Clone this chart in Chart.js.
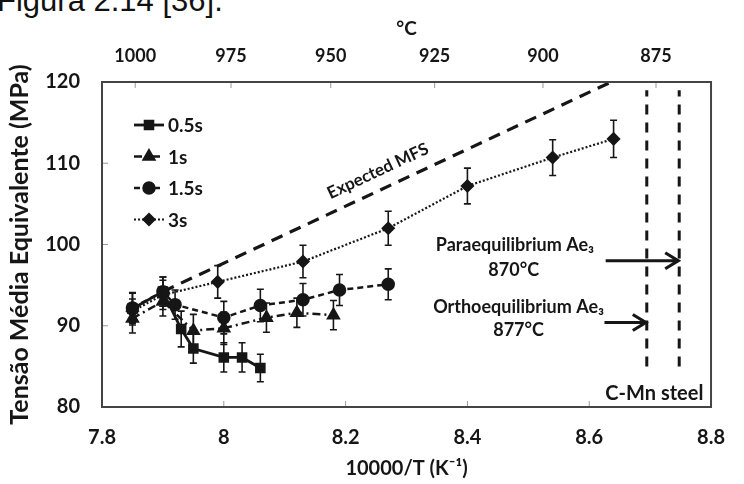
<!DOCTYPE html>
<html>
<head>
<meta charset="utf-8">
<script src="https://cdn.jsdelivr.net/npm/chart.js@4.4.0/dist/chart.umd.min.js"></script>
<style>
  html, body { margin: 0; padding: 0; background: #fff; }
  #wrap { position: relative; width: 744px; height: 484px; overflow: hidden; }
  #caption { position: absolute; left: -3px; top: -17px; font: 31px "Liberation Sans", Arial, sans-serif; color: #111; white-space: nowrap; }
  canvas { position: absolute; left: 0; top: 0; }
</style>
</head>
<body>
<div id="wrap">
  <div id="caption">Figura 2.14 [36].</div>
  <canvas id="mfsChart" width="744" height="484"></canvas>
</div>
<script>
// Mean flow stress vs 10000/T for several interpass times

// 0.5 s
const x05 = [7.85, 7.90, 7.93, 7.95, 8.00, 8.03, 8.06];
const y05 = [92.1, 94.2, 89.6, 87.2, 86.1, 86.1, 84.8];
const e05 = [2.0, 1.8, 2.2, 1.8, 1.8, 1.8, 1.7];
// 1 s
const x1 = [7.85, 7.90, 7.95, 8.00, 8.07, 8.12, 8.18];
const y1 = [90.9, 93.0, 89.4, 89.7, 91.0, 91.6, 91.3];
const e1 = [1.8, 1.8, 2.0, 2.0, 1.8, 1.8, 1.8];
// 1.5 s
const x15 = [7.85, 7.90, 7.92, 8.00, 8.06, 8.13, 8.19, 8.27];
const y15 = [92.2, 94.2, 92.6, 91.0, 92.5, 93.2, 94.4, 95.1];
const e15 = [1.8, 1.8, 1.8, 2.0, 2.0, 2.0, 1.9, 1.9];
// 3 s
const x3 = [7.85, 7.90, 7.99, 8.13, 8.27, 8.40, 8.54, 8.64];
const y3 = [91.8, 93.8, 95.4, 97.9, 102.0, 107.2, 110.7, 113.0];
const e3 = [1.5, 1.8, 2.0, 2.0, 2.1, 2.2, 2.2, 2.3];

// expected MFS line
const mfsX = [7.90, 8.636];
const mfsY = [94.2, 120];

// top axis temperatures (°C)
const topTempsC = [1000, 975, 950, 925, 900, 875];

// Ae3 temperatures (°C): ortho, para
const ae3Temps = [877, 870];
const ae3Span = [85, 119];

const ink = '#161616';
const fontFamily = 'Lato, sans-serif';
const toInvT = c => 10000 / (c + 273.15);
const pts = (xs, ys) => xs.map((x, i) => ({ x: x, y: ys[i] }));

function seriesDataset(label, xs, ys, errs, style, radius, dash, width) {
    return {
        label: label,
        data: pts(xs, ys),
        errs: errs,
        borderColor: ink,
        backgroundColor: ink,
        borderWidth: width,
        borderDash: dash,
        pointStyle: style,
        pointRadius: radius,
        pointBackgroundColor: ink,
        pointBorderColor: ink,
        tension: 0,
        inLegend: true
    };
}

const datasets = [
    seriesDataset('0.5s', x05, y05, e05, 'rect', 5.5, [], 2.8),
    seriesDataset('1s', x1, y1, e1, 'triangle', 6, [8, 4, 2, 4], 2.5),
    seriesDataset('1.5s', x15, y15, e15, 'circle', 5.5, [6, 4], 2.5),
    seriesDataset('3s', x3, y3, e3, 'rectRot', 5.5, [2, 2], 2.2),
    {
        label: 'Expected MFS',
        data: pts(mfsX, mfsY),
        borderColor: ink,
        borderWidth: 3.2,
        borderDash: [12, 8],
        pointRadius: 0
    }
];
ae3Temps.forEach(t => {
    datasets.push({
        label: 'Ae3 ' + t,
        data: pts([toInvT(t), toInvT(t)], ae3Span),
        borderColor: ink,
        borderWidth: 3,
        borderDash: [10, 8],
        pointRadius: 0
    });
});

/**
 * Frame, inward ticks, error bars, arrows, legend and text annotations
 */
const decorPlugin = {
    id: 'decor',
    afterDatasetsDraw(chart) {
        const ctx = chart.ctx;
        const xs = chart.scales.x, ys = chart.scales.y, xt = chart.scales.xTop;
        const a = chart.chartArea;
        ctx.save();
        ctx.setLineDash([]);

        // inward tick marks
        ctx.strokeStyle = '#999';
        ctx.lineWidth = 1;
        ctx.beginPath();
        xs.ticks.forEach(t => {
            const px = xs.getPixelForValue(t.value);
            ctx.moveTo(px, a.bottom); ctx.lineTo(px, a.bottom - 6);
        });
        ys.ticks.forEach(t => {
            const py = ys.getPixelForValue(t.value);
            ctx.moveTo(a.left, py); ctx.lineTo(a.left + 6, py);
        });
        xt.ticks.forEach(t => {
            const px = xt.getPixelForValue(t.value);
            ctx.moveTo(px, a.top); ctx.lineTo(px, a.top + 6);
        });
        ctx.stroke();

        // frame
        ctx.strokeStyle = '#444';
        ctx.lineWidth = 2;
        ctx.strokeRect(a.left, a.top, a.right - a.left, a.bottom - a.top);

        // error bars
        ctx.strokeStyle = ink;
        ctx.lineWidth = 1.6;
        chart.data.datasets.forEach((ds, i) => {
            if (!ds.errs) return;
            const meta = chart.getDatasetMeta(i);
            ctx.beginPath();
            meta.data.forEach((pt, j) => {
                const top = ys.getPixelForValue(ds.data[j].y + ds.errs[j]);
                const bot = ys.getPixelForValue(ds.data[j].y - ds.errs[j]);
                ctx.moveTo(pt.x, top); ctx.lineTo(pt.x, bot);
                ctx.moveTo(pt.x - 3.5, top); ctx.lineTo(pt.x + 3.5, top);
                ctx.moveTo(pt.x - 3.5, bot); ctx.lineTo(pt.x + 3.5, bot);
            });
            ctx.stroke();
        });

        // arrows to the Ae3 lines
        const arrow = (x0, x1v, yv) => {
            const p0 = xs.getPixelForValue(x0), p1 = xs.getPixelForValue(x1v);
            const py = ys.getPixelForValue(yv);
            ctx.lineWidth = 3.2;
            ctx.beginPath();
            ctx.moveTo(p0, py); ctx.lineTo(p1 - 1, py);
            ctx.moveTo(p1 - 14, py - 8); ctx.lineTo(p1 - 1, py); ctx.lineTo(p1 - 14, py + 8);
            ctx.stroke();
        };
        arrow(8.627, toInvT(870), 98.0);
        arrow(8.625, toInvT(877), 90.4);

        // legend
        ctx.font = 'bold 19px ' + fontFamily;
        ctx.textBaseline = 'middle';
        ctx.textAlign = 'left';
        let ly = a.top + 43;
        chart.data.datasets.forEach(ds => {
            if (!ds.inLegend) return;
            const lx = a.left + 32;
            ctx.strokeStyle = ink;
            ctx.lineWidth = ds.borderWidth;
            ctx.setLineDash(ds.borderDash);
            ctx.beginPath();
            ctx.moveTo(lx, ly); ctx.lineTo(lx + 30, ly);
            ctx.stroke();
            ctx.setLineDash([]);
            ctx.fillStyle = ink;
            Chart.helpers.drawPoint(ctx, { pointStyle: ds.pointStyle, radius: ds.pointRadius, borderWidth: 1 }, lx + 15, ly);
            ctx.fillText(ds.label, lx + 34, ly + 1);
            ly += 31.5;
        });

        // annotation text
        ctx.fillStyle = ink;
        ctx.textAlign = 'center';
        ctx.font = 'bold 18px ' + fontFamily;
        const label = (txt, xv, yv) => ctx.fillText(txt, xs.getPixelForValue(xv), ys.getPixelForValue(yv));
        label('Paraequilibrium Ae\u2083', 8.478, 99.95);
        label('870°C', 8.476, 96.9);
        label('Orthoequilibrium Ae\u2083', 8.484, 92.25);
        label('877°C', 8.484, 89.5);
        ctx.font = 'bold 20px ' + fontFamily;
        label('C-Mn steel', 8.707, 81.7);

        // expected MFS, rotated along its line
        const q0x = xs.getPixelForValue(mfsX[0]), q0y = ys.getPixelForValue(mfsY[0]);
        const q1x = xs.getPixelForValue(mfsX[1]), q1y = ys.getPixelForValue(mfsY[1]);
        ctx.translate(xs.getPixelForValue(8.253), ys.getPixelForValue(109.05));
        ctx.rotate(Math.atan2(q1y - q0y, q1x - q0x));
        ctx.font = 'bold 17px ' + fontFamily;
        ctx.fillText('Expected MFS', 0, 0);
        ctx.restore();
    }
};

const tickFont = { family: fontFamily, size: 20, weight: 'bold' };

const ctx = document.getElementById('mfsChart').getContext('2d');
const mfsChart = new Chart(ctx, {
    type: 'line',
    data: { datasets: datasets },
    options: {
        responsive: false,
        devicePixelRatio: 1,
        animation: false,
        layout: { padding: { left: 0, right: 17, top: 0, bottom: 0 } },
        plugins: {
            legend: { display: false },
            tooltip: { enabled: false }
        },
        scales: {
            x: {
                type: 'linear',
                position: 'bottom',
                min: 7.8,
                max: 8.8,
                ticks: {
                    stepSize: 0.2,
                    color: ink,
                    font: tickFont,
                    padding: 19,
                    callback: value => String(Number(value.toFixed(1)))
                },
                grid: { display: false, drawTicks: false },
                border: { display: false },
                title: {
                    display: true,
                    text: '10000/T (K\u207B\u00B9)',
                    color: ink,
                    font: tickFont,
                    padding: { top: 0, bottom: 3 }
                },
                afterFit: scale => { scale.height = 77; }
            },
            xTop: {
                type: 'linear',
                position: 'top',
                min: 7.8,
                max: 8.8,
                afterBuildTicks: scale => {
                    scale.ticks = topTempsC.map(c => ({ value: toInvT(c) }));
                },
                ticks: {
                    color: ink,
                    font: { family: fontFamily, size: 18, weight: 'bold' },
                    padding: 15,
                    callback: (value, index) => String(topTempsC[index])
                },
                grid: { display: false, drawTicks: false },
                border: { display: false },
                title: {
                    display: true,
                    text: '°C',
                    color: ink,
                    font: { family: fontFamily, size: 19, weight: 'bold' },
                    padding: { top: 17, bottom: 0 }
                },
                afterFit: scale => { scale.height = 82; }
            },
            y: {
                type: 'linear',
                min: 80,
                max: 120,
                ticks: { stepSize: 10, color: ink, font: tickFont, padding: 22 },
                grid: { display: false, drawTicks: false },
                border: { display: false },
                title: {
                    display: true,
                    text: 'Tensão Média Equivalente (MPa)',
                    color: ink,
                    font: { family: fontFamily, size: 25, weight: 'bold' },
                    padding: { top: 5, bottom: 0 }
                },
                afterFit: scale => { scale.width = 102; }
            }
        }
    },
    plugins: [decorPlugin]
});
</script>
</body>
</html>
